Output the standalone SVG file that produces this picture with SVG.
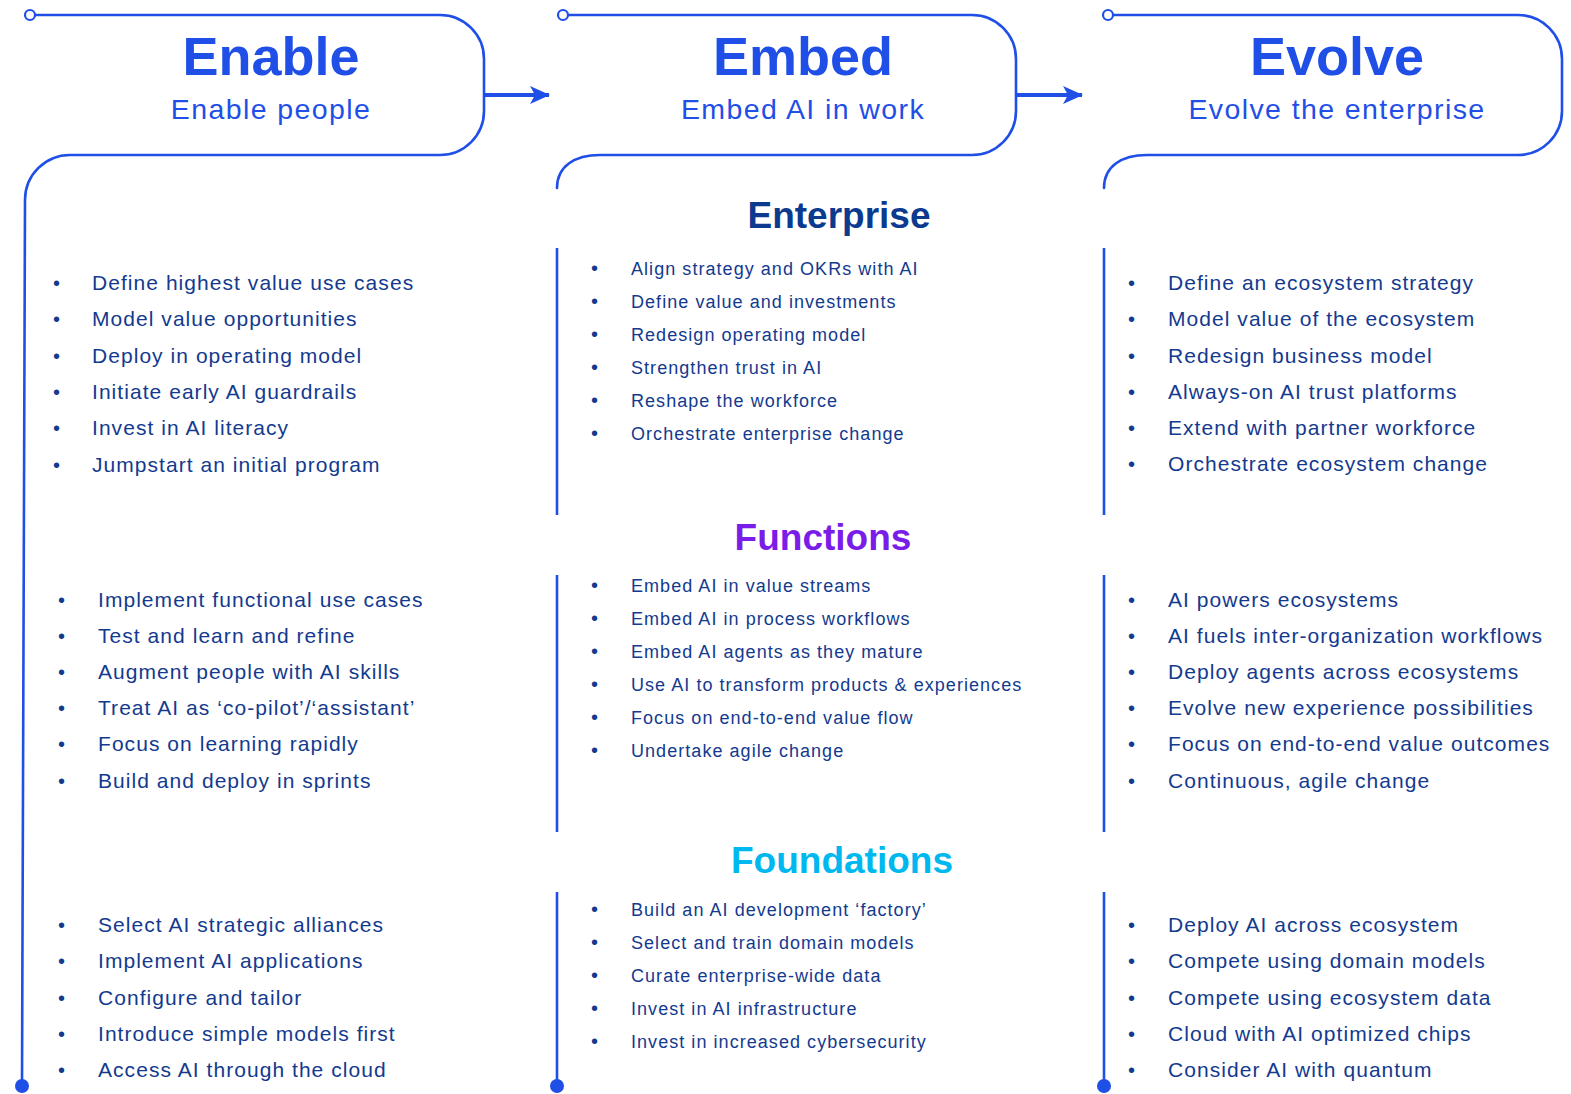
<svg xmlns="http://www.w3.org/2000/svg" width="1571" height="1094" viewBox="0 0 1571 1094">
<style>
.frame{fill:none;stroke:#1f4fe6;stroke-width:2.6;stroke-linecap:round}
.vline{fill:none;stroke:#1f4fe6;stroke-width:2.6}
.start{fill:#fff;stroke:#1f4fe6;stroke-width:2.2}
.end{fill:#1f4fe6}
.arrow{stroke:#1f4fe6;stroke-width:4;fill:none}
.head{fill:#1f4fe6}
.h1{font-family:"Liberation Sans",Arial,sans-serif;font-weight:bold;font-size:54px;fill:#1f4fe6;text-anchor:middle}
.h2{font-family:"Liberation Sans",Arial,sans-serif;font-size:28.5px;fill:#1f4fe6;text-anchor:middle;letter-spacing:1.4px}
.sec{font-family:"Liberation Sans",Arial,sans-serif;font-weight:bold;font-size:37px;text-anchor:middle}
.b{font-family:"Liberation Sans",Arial,sans-serif;font-size:21px;fill:#133a8e;letter-spacing:1.05px}
.m{font-family:"Liberation Sans",Arial,sans-serif;font-size:18px;fill:#133a8e;letter-spacing:1.05px}
.dot{font-family:"Liberation Sans",Arial,sans-serif;font-size:20px;fill:#133a8e}
</style>
<defs>
<marker id="ah" viewBox="0 0 20 18" refX="19" refY="9" markerWidth="20" markerHeight="18" markerUnits="userSpaceOnUse" orient="auto">
<path d="M0,0 L20,9 L0,18 L5,9 Z" class="head"/>
</marker>
</defs>
<rect width="1571" height="1094" fill="#fff"/>

<g id="connectors">
<line class="arrow" x1="485" y1="95" x2="549" y2="95" marker-end="url(#ah)"/>
<line class="arrow" x1="1017" y1="95" x2="1082" y2="95" marker-end="url(#ah)"/>
</g>

<g id="enable">
<path class="frame" d="M35,15 H440 A44,44 0 0 1 484,59 V111 A44,44 0 0 1 440,155 H70 A45,45 0 0 0 25,200 L22,1084"/>
<circle class="start" cx="30" cy="15" r="5"/>
<circle class="end" cx="22" cy="1086" r="7"/>
<text class="h1" x="271" y="75">Enable</text>
<text class="h2" x="271" y="119">Enable people</text>
<g>
<text class="dot" x="53" y="290">•</text><text class="b" x="92" y="290">Define highest value use cases</text>
<text class="dot" x="53" y="326">•</text><text class="b" x="92" y="326">Model value opportunities</text>
<text class="dot" x="53" y="363">•</text><text class="b" x="92" y="363">Deploy in operating model</text>
<text class="dot" x="53" y="399">•</text><text class="b" x="92" y="399">Initiate early AI guardrails</text>
<text class="dot" x="53" y="435">•</text><text class="b" x="92" y="435">Invest in AI literacy</text>
<text class="dot" x="53" y="472">•</text><text class="b" x="92" y="472">Jumpstart an initial program</text>
</g>
<g>
<text class="dot" x="58" y="607">•</text><text class="b" x="98" y="607">Implement functional use cases</text>
<text class="dot" x="58" y="643">•</text><text class="b" x="98" y="643">Test and learn and refine</text>
<text class="dot" x="58" y="679">•</text><text class="b" x="98" y="679">Augment people with AI skills</text>
<text class="dot" x="58" y="715">•</text><text class="b" x="98" y="715">Treat AI as ‘co-pilot’/‘assistant’</text>
<text class="dot" x="58" y="751">•</text><text class="b" x="98" y="751">Focus on learning rapidly</text>
<text class="dot" x="58" y="788">•</text><text class="b" x="98" y="788">Build and deploy in sprints</text>
</g>
<g>
<text class="dot" x="58" y="932">•</text><text class="b" x="98" y="932">Select AI strategic alliances</text>
<text class="dot" x="58" y="968">•</text><text class="b" x="98" y="968">Implement AI applications</text>
<text class="dot" x="58" y="1005">•</text><text class="b" x="98" y="1005">Configure and tailor</text>
<text class="dot" x="58" y="1041">•</text><text class="b" x="98" y="1041">Introduce simple models first</text>
<text class="dot" x="58" y="1077">•</text><text class="b" x="98" y="1077">Access AI through the cloud</text>
</g>
</g>

<g id="embed">
<path class="frame" d="M568,15 H972 A44,44 0 0 1 1016,59 V111 A44,44 0 0 1 972,155 H600 C575,155 557,166 557,188"/>
<circle class="start" cx="563" cy="15" r="5"/>
<line class="vline" x1="557" y1="248" x2="557" y2="515"/>
<line class="vline" x1="557" y1="575" x2="557" y2="832"/>
<line class="vline" x1="557" y1="892" x2="557" y2="1084"/>
<circle class="end" cx="557" cy="1086" r="7"/>
<text class="h1" x="803" y="75">Embed</text>
<text class="h2" x="803" y="119">Embed AI in work</text>
</g>

<g id="evolve">
<path class="frame" d="M1113,15 H1518 A44,44 0 0 1 1562,59 V111 A44,44 0 0 1 1518,155 H1147 C1122,155 1104,166 1104,188"/>
<circle class="start" cx="1108" cy="15" r="5"/>
<line class="vline" x1="1104" y1="248" x2="1104" y2="515"/>
<line class="vline" x1="1104" y1="575" x2="1104" y2="832"/>
<line class="vline" x1="1104" y1="892" x2="1104" y2="1084"/>
<circle class="end" cx="1104" cy="1086" r="7"/>
<text class="h1" x="1337" y="75">Evolve</text>
<text class="h2" x="1337" y="119">Evolve the enterprise</text>
<g>
<text class="dot" x="1128" y="290">•</text><text class="b" x="1168" y="290">Define an ecosystem strategy</text>
<text class="dot" x="1128" y="326">•</text><text class="b" x="1168" y="326">Model value of the ecosystem</text>
<text class="dot" x="1128" y="363">•</text><text class="b" x="1168" y="363">Redesign business model</text>
<text class="dot" x="1128" y="399">•</text><text class="b" x="1168" y="399">Always-on AI trust platforms</text>
<text class="dot" x="1128" y="435">•</text><text class="b" x="1168" y="435">Extend with partner workforce</text>
<text class="dot" x="1128" y="471">•</text><text class="b" x="1168" y="471">Orchestrate ecosystem change</text>
</g>
<g>
<text class="dot" x="1128" y="607">•</text><text class="b" x="1168" y="607">AI powers ecosystems</text>
<text class="dot" x="1128" y="643">•</text><text class="b" x="1168" y="643">AI fuels inter-organization workflows</text>
<text class="dot" x="1128" y="679">•</text><text class="b" x="1168" y="679">Deploy agents across ecosystems</text>
<text class="dot" x="1128" y="715">•</text><text class="b" x="1168" y="715">Evolve new experience possibilities</text>
<text class="dot" x="1128" y="751">•</text><text class="b" x="1168" y="751">Focus on end-to-end value outcomes</text>
<text class="dot" x="1128" y="788">•</text><text class="b" x="1168" y="788">Continuous, agile change</text>
</g>
<g>
<text class="dot" x="1128" y="932">•</text><text class="b" x="1168" y="932">Deploy AI across ecosystem</text>
<text class="dot" x="1128" y="968">•</text><text class="b" x="1168" y="968">Compete using domain models</text>
<text class="dot" x="1128" y="1005">•</text><text class="b" x="1168" y="1005">Compete using ecosystem data</text>
<text class="dot" x="1128" y="1041">•</text><text class="b" x="1168" y="1041">Cloud with AI optimized chips</text>
<text class="dot" x="1128" y="1077">•</text><text class="b" x="1168" y="1077">Consider AI with quantum</text>
</g>
</g>

<g id="enterprise">
<text class="sec" x="839" y="228" fill="#0b3a8f">Enterprise</text>
<text class="dot" x="591" y="275">•</text><text class="m" x="631" y="275">Align strategy and OKRs with AI</text>
<text class="dot" x="591" y="308">•</text><text class="m" x="631" y="308">Define value and investments</text>
<text class="dot" x="591" y="341">•</text><text class="m" x="631" y="341">Redesign operating model</text>
<text class="dot" x="591" y="374">•</text><text class="m" x="631" y="374">Strengthen trust in AI</text>
<text class="dot" x="591" y="407">•</text><text class="m" x="631" y="407">Reshape the workforce</text>
<text class="dot" x="591" y="440">•</text><text class="m" x="631" y="440">Orchestrate enterprise change</text>
</g>

<g id="functions">
<text class="sec" x="823" y="550" fill="#7a1de8">Functions</text>
<text class="dot" x="591" y="592">•</text><text class="m" x="631" y="592">Embed AI in value streams</text>
<text class="dot" x="591" y="625">•</text><text class="m" x="631" y="625">Embed AI in process workflows</text>
<text class="dot" x="591" y="658">•</text><text class="m" x="631" y="658">Embed AI agents as they mature</text>
<text class="dot" x="591" y="691">•</text><text class="m" x="631" y="691">Use AI to transform products &amp; experiences</text>
<text class="dot" x="591" y="724">•</text><text class="m" x="631" y="724">Focus on end-to-end value flow</text>
<text class="dot" x="591" y="757">•</text><text class="m" x="631" y="757">Undertake agile change</text>
</g>

<g id="foundations">
<text class="sec" x="842" y="873" fill="#00b8f0">Foundations</text>
<text class="dot" x="591" y="916">•</text><text class="m" x="631" y="916">Build an AI development ‘factory’</text>
<text class="dot" x="591" y="949">•</text><text class="m" x="631" y="949">Select and train domain models</text>
<text class="dot" x="591" y="982">•</text><text class="m" x="631" y="982">Curate enterprise-wide data</text>
<text class="dot" x="591" y="1015">•</text><text class="m" x="631" y="1015">Invest in AI infrastructure</text>
<text class="dot" x="591" y="1048">•</text><text class="m" x="631" y="1048">Invest in increased cybersecurity</text>
</g>
</svg>
